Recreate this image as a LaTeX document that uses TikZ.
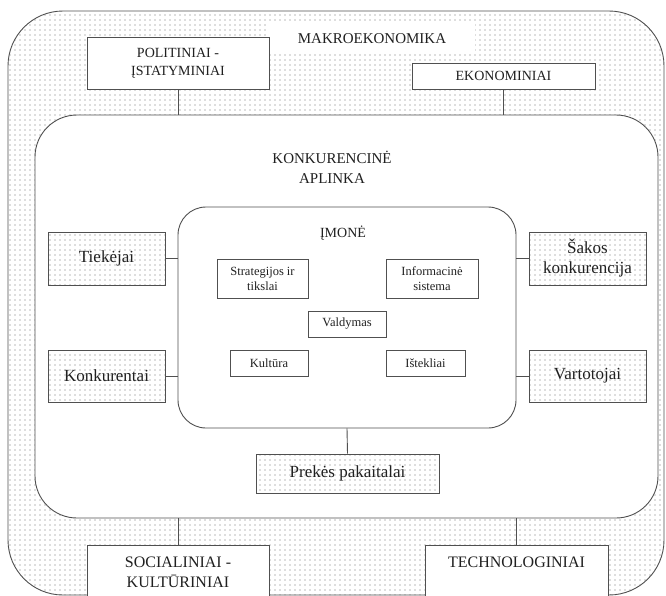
\documentclass[tikz,border=0pt]{standalone}
\usepackage{fontspec}
\setmainfont{Liberation Serif}
\usetikzlibrary{patterns.meta}
\definecolor{linec}{HTML}{505050}
\definecolor{txtc}{HTML}{202020}
\newcommand{\fsz}[1]{\fontsize{#1}{#1}\selectfont}
\tikzset{
  dotfill/.style={pattern={Dots[distance=5pt,radius=0.6pt]}, pattern color=gray!90!black},
  box/.style={draw=linec, line width=0.9pt, fill=white, inner sep=0pt, align=center, text=txtc},
  dotbox/.style={draw=linec, line width=0.9pt, dotfill, inner sep=0pt, align=center, text=txtc},
  conn/.style={draw=linec, line width=0.9pt},
}
\begin{document}
\begin{tikzpicture}[x=1pt,y=-1pt]
\useasboundingbox (0,0) rectangle (666,595);
\fill[white] (0,0) rectangle (666,595);
% outer
\node[draw=linec, line width=0.9pt, dotfill, rounded corners=55pt, minimum width=656pt, minimum height=584pt, inner sep=0pt] (outer) at (336,303) {};
\node[box, minimum width=206pt, minimum height=30pt, draw=none, font=\fsz{15}] (makro) at (372,39) {MAKROEKONOMIKA};
% inner competitive environment
\node[box, rounded corners=42pt, minimum width=623pt, minimum height=403pt] (inner) at (346.5,316.5) {};
\node[text=txtc, align=center, font=\fontsize{15}{20}\selectfont, inner sep=0pt] (konk) at (332,167) {KONKURENCINĖ\\APLINKA};
% company
\node[box, rounded corners=28pt, minimum width=338pt, minimum height=221pt] (imone) at (347,317.5) {};
\node[text=txtc, font=\fsz{14}, inner sep=0pt] (imt) at (343,233) {ĮMONĖ};
% macro boxes
\node[box, minimum width=182pt, minimum height=52pt, font=\fontsize{14}{18}\selectfont] (pol) at (178,63) {POLITINIAI -\\ĮSTATYMINIAI};
\node[box, minimum width=183pt, minimum height=26pt, font=\fsz{14}] (eko) at (503.5,76) {EKONOMINIAI};
\node[box, minimum width=182pt, minimum height=54pt, font=\fontsize{16}{20}\selectfont] (soc) at (178,572) {SOCIALINIAI -\\KULTŪRINIAI};
\node[box, minimum width=183pt, minimum height=54pt, font=\fontsize{16}{20}\selectfont] (tech) at (516.5,572) {TECHNOLOGINIAI\\\mbox{}};
% competitive boxes
\node[dotbox, minimum width=117pt, minimum height=53pt, font=\fsz{17}] (tiek) at (106.5,258.5) {Tiekėjai};
\node[dotbox, minimum width=117pt, minimum height=52pt, font=\fsz{17}] (konkur) at (106.5,376) {Konkurentai};
\node[dotbox, minimum width=117pt, minimum height=53pt, font=\fontsize{17}{20}\selectfont] (sakos) at (587.5,258.5) {Šakos\\konkurencija};
\node[dotbox, minimum width=117pt, minimum height=52pt, font=\fsz{17}] (vart) at (587.5,376) {Vartotojai};
\node[dotbox, minimum width=183pt, minimum height=39pt, font=\fsz{17}] (prek) at (347.5,473.5) {Prekės pakaitalai};
% company inner boxes
\node[box, minimum width=91pt, minimum height=39pt, font=\fontsize{12.5}{15}\selectfont] (strat) at (262.5,278.5) {Strategijos ir\\tikslai};
\node[box, minimum width=92pt, minimum height=39pt, font=\fontsize{12.5}{15}\selectfont] (info) at (432,278.5) {Informacinė\\sistema};
\node[box, minimum width=78pt, minimum height=26pt, font=\fsz{12.5}] (vald) at (347,324) {Valdymas};
\node[box, minimum width=78pt, minimum height=26pt, font=\fsz{12.5}] (kult) at (269,363) {Kultūra};
\node[box, minimum width=79pt, minimum height=26pt, font=\fsz{12.5}] (istek) at (425.5,363) {Ištekliai};
% connectors
\draw[conn] (pol.south) -- (pol.south |- inner.north);
\draw[conn] (eko.south) -- (eko.south |- inner.north);
\draw[conn] (soc.north) -- (soc.north |- inner.south);
\draw[conn] (tech.north) -- (tech.north |- inner.south);
\draw[conn] (tiek.east) -- (tiek.east -| imone.west);
\draw[conn] (konkur.east) -- (konkur.east -| imone.west);
\draw[conn] (sakos.west) -- (sakos.west -| imone.east);
\draw[conn] (vart.west) -- (vart.west -| imone.east);
\draw[conn] (imone.south) -- (prek.north);
\end{tikzpicture}
\end{document}
